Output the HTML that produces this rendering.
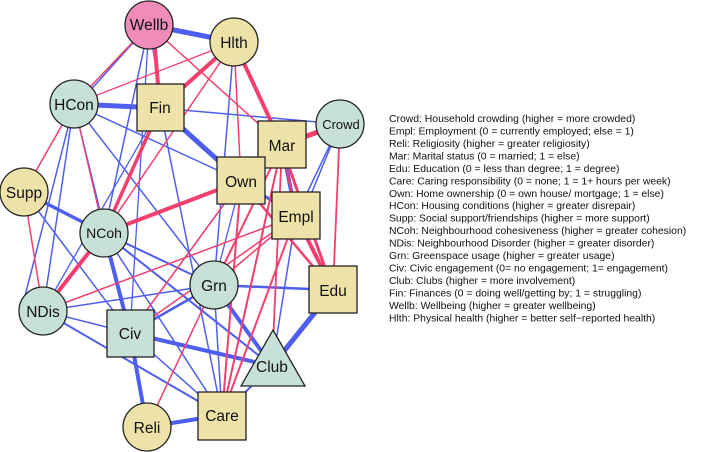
<!DOCTYPE html>
<html><head><meta charset="utf-8"><style>
html,body{margin:0;padding:0;background:#fff;}
svg{display:block;}
text{font-family:"Liberation Sans",Arial,sans-serif;}
</style></head><body>
<svg width="709" height="452" viewBox="0 0 709 452" xmlns="http://www.w3.org/2000/svg">
<g fill="none" stroke-linecap="round">
<g stroke="#4d5ef0">
<line x1="149" y1="25" x2="234" y2="42" stroke-width="5"/>
<line x1="149" y1="25" x2="163" y2="108" stroke-width="1.8"/>
<line x1="149" y1="25" x2="78" y2="104" stroke-width="1.5"/>
<line x1="149" y1="25" x2="104" y2="233" stroke-width="1.5"/>
<line x1="149" y1="25" x2="130" y2="333" stroke-width="1.3"/>
<line x1="234" y1="42" x2="214" y2="285" stroke-width="1.5"/>
<line x1="74" y1="104" x2="160" y2="108" stroke-width="5"/>
<line x1="74" y1="104" x2="241" y2="181" stroke-width="1.5"/>
<line x1="74" y1="104" x2="43" y2="311" stroke-width="1.5"/>
<line x1="74" y1="104" x2="24" y2="300" stroke-width="1.5"/>
<line x1="74" y1="104" x2="214" y2="285" stroke-width="1.5"/>
<line x1="74" y1="104" x2="130" y2="333" stroke-width="1.3"/>
<line x1="160" y1="108" x2="241" y2="181" stroke-width="5"/>
<line x1="160" y1="108" x2="340" y2="124" stroke-width="1.5"/>
<line x1="160" y1="108" x2="222" y2="415" stroke-width="1.5"/>
<line x1="340" y1="124" x2="282" y2="145" stroke-width="2"/>
<line x1="340" y1="124" x2="296" y2="216" stroke-width="1.5"/>
<line x1="340" y1="124" x2="302" y2="216" stroke-width="1.5"/>
<line x1="282" y1="145" x2="296" y2="216" stroke-width="4"/>
<line x1="241" y1="181" x2="296" y2="216" stroke-width="3"/>
<line x1="241" y1="181" x2="130" y2="333" stroke-width="1.3"/>
<line x1="241" y1="181" x2="214" y2="285" stroke-width="1.3"/>
<line x1="24" y1="192" x2="104" y2="233" stroke-width="3.5"/>
<line x1="24" y1="192" x2="130" y2="333" stroke-width="1.5"/>
<line x1="104" y1="233" x2="130" y2="333" stroke-width="4"/>
<line x1="104" y1="233" x2="214" y2="285" stroke-width="2"/>
<line x1="104" y1="233" x2="272" y2="366" stroke-width="2"/>
<line x1="104" y1="233" x2="222" y2="415" stroke-width="1.5"/>
<line x1="104" y1="233" x2="43" y2="311" stroke-width="1.5"/>
<line x1="43" y1="311" x2="130" y2="333" stroke-width="1.5"/>
<line x1="43" y1="311" x2="214" y2="285" stroke-width="1.5"/>
<line x1="43" y1="311" x2="222" y2="415" stroke-width="2"/>
<line x1="43" y1="311" x2="160" y2="108" stroke-width="1.3"/>
<line x1="214" y1="285" x2="333" y2="290" stroke-width="2.5"/>
<line x1="214" y1="285" x2="272" y2="366" stroke-width="4"/>
<line x1="214" y1="285" x2="130" y2="333" stroke-width="2.5"/>
<line x1="214" y1="285" x2="222" y2="415" stroke-width="1.5"/>
<line x1="296" y1="216" x2="272" y2="366" stroke-width="1.5"/>
<line x1="333" y1="290" x2="272" y2="366" stroke-width="5"/>
<line x1="130" y1="333" x2="272" y2="366" stroke-width="4"/>
<line x1="130" y1="333" x2="147" y2="427" stroke-width="4"/>
<line x1="147" y1="427" x2="222" y2="415" stroke-width="4"/>
<line x1="222" y1="415" x2="272" y2="366" stroke-width="2"/>
<line x1="130" y1="333" x2="222" y2="415" stroke-width="1.5"/>
</g>
<g stroke="#f43f6e">
<line x1="153" y1="25" x2="160" y2="108" stroke-width="4"/>
<line x1="149" y1="25" x2="74" y2="104" stroke-width="1.5"/>
<line x1="149" y1="25" x2="282" y2="145" stroke-width="1.5"/>
<line x1="234" y1="42" x2="74" y2="104" stroke-width="1.3"/>
<line x1="234" y1="42" x2="160" y2="108" stroke-width="4"/>
<line x1="234" y1="42" x2="282" y2="145" stroke-width="4"/>
<line x1="234" y1="42" x2="241" y2="181" stroke-width="1.5"/>
<line x1="234" y1="42" x2="104" y2="233" stroke-width="1.5"/>
<line x1="74" y1="104" x2="24" y2="192" stroke-width="1.5"/>
<line x1="74" y1="104" x2="104" y2="233" stroke-width="1.3"/>
<line x1="160" y1="108" x2="104" y2="233" stroke-width="3.5"/>
<line x1="340" y1="124" x2="282" y2="145" stroke-width="5"/>
<line x1="340" y1="124" x2="333" y2="290" stroke-width="1.8"/>
<line x1="282" y1="145" x2="296" y2="216" stroke-width="2"/>
<line x1="282" y1="145" x2="222" y2="415" stroke-width="2"/>
<line x1="282" y1="145" x2="272" y2="366" stroke-width="1.8"/>
<line x1="282" y1="145" x2="214" y2="285" stroke-width="2"/>
<line x1="241" y1="181" x2="104" y2="233" stroke-width="4"/>
<line x1="241" y1="181" x2="333" y2="290" stroke-width="2.5"/>
<line x1="241" y1="181" x2="222" y2="415" stroke-width="2"/>
<line x1="241" y1="181" x2="130" y2="333" stroke-width="1.5"/>
<line x1="24" y1="192" x2="43" y2="311" stroke-width="1.5"/>
<line x1="104" y1="233" x2="43" y2="311" stroke-width="4"/>
<line x1="43" y1="311" x2="296" y2="216" stroke-width="1.5"/>
<line x1="214" y1="285" x2="296" y2="216" stroke-width="1.5"/>
<line x1="214" y1="285" x2="147" y2="427" stroke-width="1.5"/>
<line x1="130" y1="333" x2="296" y2="216" stroke-width="1.5"/>
<line x1="296" y1="216" x2="333" y2="290" stroke-width="4"/>
<line x1="296" y1="216" x2="222" y2="415" stroke-width="2"/>
<line x1="290" y1="170" x2="333" y2="290" stroke-width="3"/>
</g>
</g>
<g stroke="#222" stroke-width="1.3">
<circle cx="149" cy="25" r="24" fill="#f08cba"/>
<circle cx="234" cy="42" r="24" fill="#ede2a8"/>
<circle cx="74" cy="104" r="24" fill="#c8e1d6"/>
<circle cx="340" cy="124" r="24" fill="#c8e1d6"/>
<circle cx="24" cy="192" r="24" fill="#ede2a8"/>
<circle cx="104" cy="233" r="24" fill="#c8e1d6"/>
<circle cx="214" cy="285" r="24" fill="#c8e1d6"/>
<circle cx="43" cy="311" r="24" fill="#c8e1d6"/>
<circle cx="147" cy="427" r="24" fill="#ede2a8"/>
<rect x="137" y="84" width="47" height="47" fill="#ede2a8"/>
<rect x="258" y="121" width="48" height="47" fill="#ede2a8"/>
<rect x="217" y="157" width="48" height="47" fill="#ede2a8"/>
<rect x="272" y="192" width="48" height="47" fill="#ede2a8"/>
<rect x="309" y="266" width="48" height="47" fill="#ede2a8"/>
<rect x="107" y="310" width="47" height="47" fill="#c8e1d6"/>
<rect x="198" y="392" width="48" height="48" fill="#ede2a8"/>
<polygon points="273,330 305,386 241,386" fill="#c8e1d6"/>
</g>
<g font-size="15.5" text-anchor="middle" fill="#111">
<text x="149" y="30">Wellb</text>
<text x="234" y="48">Hlth</text>
<text x="74" y="110">HCon</text>
<text x="341" y="129" font-size="13">Crowd</text>
<text x="24" y="198">Supp</text>
<text x="104" y="238" font-size="14">NCoh</text>
<text x="214" y="291">Grn</text>
<text x="43" y="317">NDis</text>
<text x="147" y="433">Reli</text>
<text x="160" y="113">Fin</text>
<text x="282" y="151">Mar</text>
<text x="241" y="187">Own</text>
<text x="296" y="222">Empl</text>
<text x="333" y="296">Edu</text>
<text x="130" y="339">Civ</text>
<text x="222" y="421">Care</text>
<text x="272" y="372">Club</text>
</g>
<g font-size="10.4" fill="#111">
<text x="389" y="122">Crowd: Household crowding (higher = more crowded)</text>
<text x="389" y="134.5">Empl: Employment (0 = currently employed; else = 1)</text>
<text x="389" y="147">Reli: Religiosity (higher = greater religiosity)</text>
<text x="389" y="159.4">Mar: Marital status (0 = married; 1 = else)</text>
<text x="389" y="171.9">Edu: Education (0 = less than degree; 1 = degree)</text>
<text x="389" y="184.3">Care: Caring responsibility (0 = none; 1 = 1+ hours per week)</text>
<text x="389" y="196.8">Own: Home ownership (0 = own house/ mortgage; 1 = else)</text>
<text x="389" y="209.2">HCon: Housing conditions (higher = greater disrepair)</text>
<text x="389" y="221.7">Supp: Social support/friendships (higher = more support)</text>
<text x="389" y="234.1">NCoh: Neighbourhood cohesiveness (higher = greater cohesion)</text>
<text x="389" y="246.6">NDis: Neighbourhood Disorder (higher = greater disorder)</text>
<text x="389" y="259">Grn: Greenspace usage (higher = greater usage)</text>
<text x="389" y="271.5">Civ: Civic engagement (0= no engagement; 1= engagement)</text>
<text x="389" y="283.9">Club: Clubs (higher = more involvement)</text>
<text x="389" y="296.4">Fin: Finances (0 = doing well/getting by; 1 = struggling)</text>
<text x="389" y="308.8">Wellb: Wellbeing (higher = greater wellbeing)</text>
<text x="389" y="321.3">Hlth: Physical health (higher = better self−reported health)</text>
</g>
</svg>
</body></html>
